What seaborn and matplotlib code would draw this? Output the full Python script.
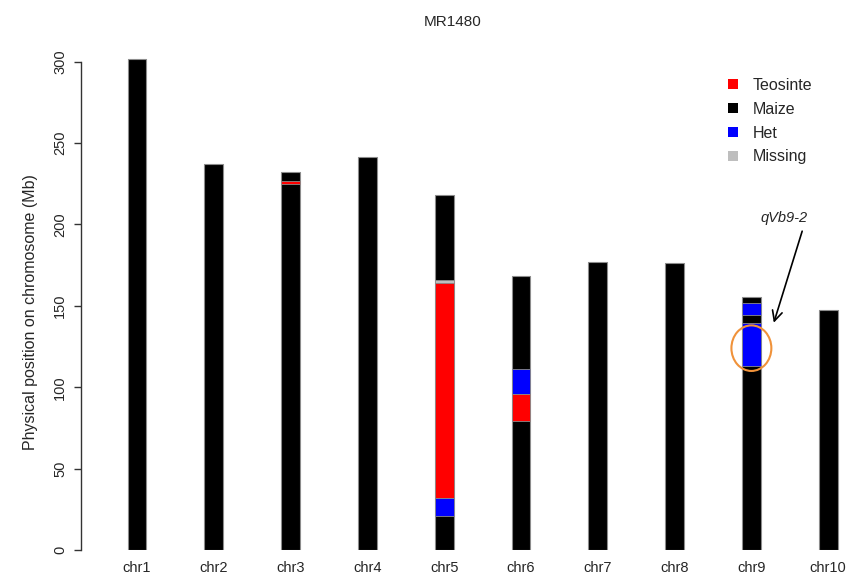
import matplotlib
matplotlib.use("Agg")
import matplotlib.pyplot as plt
from matplotlib.lines import Line2D
from matplotlib.patches import Ellipse
import seaborn as sns
import pandas as pd

# Chromosome lengths (Mb)
chromosomes = ["chr1", "chr2", "chr3", "chr4", "chr5",
               "chr6", "chr7", "chr8", "chr9", "chr10"]
chrom_length = [301.6, 237.1, 232.0, 241.4, 218.1,
                168.3, 176.7, 176.1, 155.2, 147.4]

# Non-maize genotype segments (start, end in Mb)
seg_chrom = ["chr3", "chr5", "chr5", "chr5", "chr6", "chr6", "chr9", "chr9"]
seg_start = [225.0, 164.2, 32.1, 21.1, 95.7, 79.3, 144.4, 113.0]
seg_end = [227.0, 165.9, 164.2, 32.1, 111.0, 95.7, 151.9, 139.3]
seg_type = ["Teosinte", "Missing", "Teosinte", "Het",
            "Het", "Teosinte", "Het", "Het"]

genotype_labels = ["Teosinte", "Maize", "Het", "Missing"]
genotype_colors = {"Teosinte": "#FF0000", "Maize": "#000000",
                   "Het": "#0000FF", "Missing": "#BEBEBE"}

yticks = [0, 50, 100, 150, 200, 250, 300]

sns.set_theme(style="white")
plt.rcParams["font.family"] = ["Liberation Sans", "DejaVu Sans"]

W, H = 848, 576
px_per_mb = 488.3 / 300
y_top = 310
fig = plt.figure(figsize=(W / 100, H / 100), dpi=100)
ax = fig.add_axes([81 / W, 26 / H, 767 / W, y_top * px_per_mb / H])

bar_w = 0.245
edge = "#8C8C8C"

lengths = pd.DataFrame({"chrom": chromosomes, "length": chrom_length})
sns.barplot(data=lengths, x="chrom", y="length", order=chromosomes,
            color=genotype_colors["Maize"], saturation=1, width=bar_w,
            edgecolor=edge, linewidth=0.8, errorbar=None, ax=ax)

segs = pd.DataFrame({"chrom": seg_chrom, "start": seg_start,
                     "end": seg_end, "type": seg_type})
for _, s in segs.iterrows():
    xi = chromosomes.index(s["chrom"])
    ax.bar(xi, s["end"] - s["start"], bottom=s["start"], width=bar_w,
           color=genotype_colors[s["type"]], edgecolor=edge, linewidth=0.6,
           zorder=3)

# Axes styling: only a left axis spanning the tick range
ax.set_xlim(-0.729, 9.258)
ax.set_ylim(0, y_top)
for side in ["top", "right", "bottom"]:
    ax.spines[side].set_visible(False)
ax.spines["left"].set_bounds(0, 300)
ax.spines["left"].set_color("#333333")
ax.spines["left"].set_linewidth(1.0)
ax.set_yticks(yticks)
ax.set_yticklabels([str(t) for t in yticks], rotation=90, va="center")
ax.tick_params(axis="y", which="both", left=True, length=5, width=1.0,
               direction="out", color="#333333", pad=5, labelsize=10.5)
ax.tick_params(axis="x", bottom=False, length=0, pad=8, labelsize=10.5)
ax.set_xlabel("")
ax.set_ylabel("Physical position on chromosome (Mb)", fontsize=11.5)
ax.yaxis.set_label_coords(-0.056, (550 - 312.5) / (y_top * px_per_mb))
ax.grid(False)

fig.text(452.5 / W, 1 - 21.5 / H, "MR1480", ha="center", va="center",
         fontsize=11)

# QTL marker on chr9
q = chromosomes.index("chr9")
ax.add_patch(Ellipse((q, 124.0), width=0.52, height=28.0, fill=False,
                     edgecolor="#F0923A", linewidth=1.5, zorder=4))
ax.annotate("", xy=(8.281, 138.0), xytext=(8.672, 197.5),
            arrowprops=dict(arrowstyle="->", color="black", lw=1.2,
                            mutation_scale=18))
ax.text(8.424, 203.7, "qVb9-2", style="italic", ha="center", va="center",
        fontsize=10.5)

handles = [Line2D([0], [0], marker="s", linestyle="none", markersize=7,
                  markerfacecolor=genotype_colors[g], markeredgewidth=0)
           for g in genotype_labels]
fig.legend(handles, genotype_labels, loc="upper left",
           bbox_to_anchor=(726.6 / W, 1 - 78 / H), frameon=False,
           fontsize=11.5, handlelength=0.8, handletextpad=0.85,
           labelspacing=0.55, borderpad=0, borderaxespad=0)

fig.savefig("out.png", dpi=100)
